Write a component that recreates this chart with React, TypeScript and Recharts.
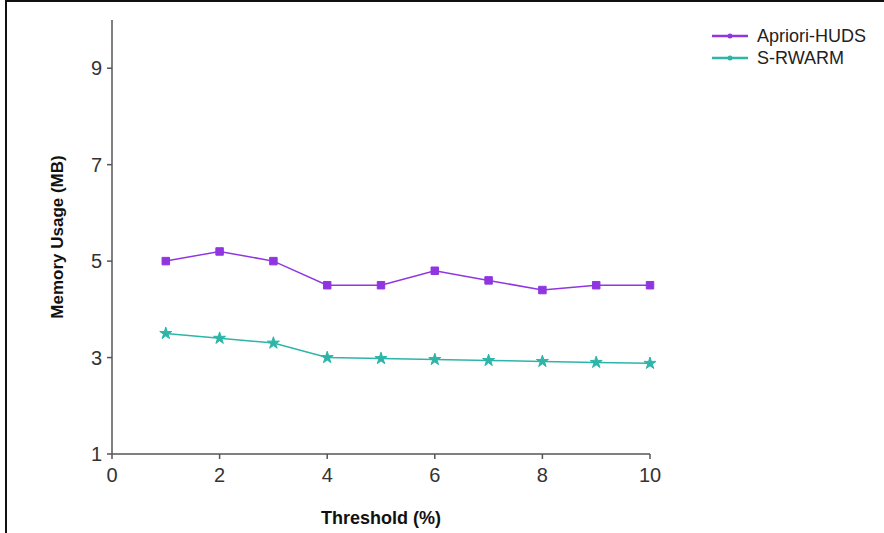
import React from 'react';
import { LineChart, Line, XAxis, YAxis, Symbols } from 'recharts';

const thresholds = [1, 2, 3, 4, 5, 6, 7, 8, 9, 10];
const aprioriHuds = [5.0, 5.2, 5.0, 4.5, 4.5, 4.8, 4.6, 4.4, 4.5, 4.5];
const sRwarm = [3.5, 3.4, 3.3, 3.0, 2.98, 2.96, 2.94, 2.92, 2.9, 2.88];
const xTicks = [0, 2, 4, 6, 8, 10];
const yTicks = [1, 3, 5, 7, 9];

const data = thresholds.map((t, i) => ({ t, apriori: aprioriHuds[i], srwarm: sRwarm[i] }));

const PURPLE = '#9036e0';
const TEAL = '#2db5a8';
const font = '"Liberation Sans Narrow", "Arial Narrow", "Liberation Sans", Arial, sans-serif';

const squareDot = (p: any) => (
  <Symbols key={`sq-${p.index}`} cx={p.cx} cy={p.cy} type="square" size={56} fill={PURPLE} stroke={PURPLE} />
);
const starDot = (p: any) => (
  <Symbols key={`st-${p.index}`} cx={p.cx} cy={p.cy} type="star" size={45} fill={TEAL} stroke={TEAL} />
);

const LegendBox = () => (
  <div style={{ position: 'absolute', left: 710, top: 25, fontFamily: font, fontSize: 18, color: '#222', lineHeight: '22px' }}>
    {[
      { name: 'Apriori-HUDS', color: PURPLE },
      { name: 'S-RWARM', color: TEAL },
    ].map((s) => (
      <div key={s.name} style={{ display: 'flex', alignItems: 'center' }}>
        <svg width={40} height={10} style={{ marginRight: 7 }}>
          <line x1={2} y1={5} x2={38} y2={5} stroke={s.color} strokeWidth={2.5} />
          <circle cx={20} cy={5} r={2.5} fill={s.color} />
        </svg>
        {s.name}
      </div>
    ))}
  </div>
);

const App = () => {
  return (
    <div style={{ position: 'absolute', left: 0, top: 0, width: 884, height: 533, background: '#fff', overflow: 'hidden' }}>
      <div style={{ position: 'absolute', left: 5, top: 0, width: 900, height: 540, borderLeft: '2px solid #111', borderTop: '2px solid #111' }} />
      <LineChart width={884} height={533} data={data} margin={{ top: 20, right: 234, bottom: 0, left: 52 }}>
        <XAxis
          dataKey="t"
          type="number"
          domain={[0, 10]}
          ticks={xTicks}
          height={79}
          stroke="#555"
          strokeWidth={1.5}
          tickSize={5}
          tick={{ fill: '#333', fontSize: 20, fontFamily: font }}
          tickMargin={9}
          label={{ value: 'Threshold (%)', position: 'insideBottom', offset: 9, style: { fontFamily: font, fontWeight: 'bold', fontSize: 18, fill: '#111' } }}
        />
        <YAxis
          type="number"
          domain={[1, 10]}
          ticks={yTicks}
          width={60}
          stroke="#555"
          strokeWidth={1.5}
          tickSize={5}
          tickMargin={5}
          tick={{ fill: '#333', fontSize: 20, fontFamily: font }}
          label={{ value: 'Memory Usage (MB)', angle: -90, position: 'insideLeft', offset: 5, style: { textAnchor: 'middle', fontFamily: font, fontWeight: 'bold', fontSize: 17, fill: '#111' } }}
        />
        <Line dataKey="apriori" stroke={PURPLE} strokeWidth={1.5} dot={squareDot} isAnimationActive={false} />
        <Line dataKey="srwarm" stroke={TEAL} strokeWidth={1.5} dot={starDot} isAnimationActive={false} />
      </LineChart>
      <LegendBox />
    </div>
  );
};

export default App;
